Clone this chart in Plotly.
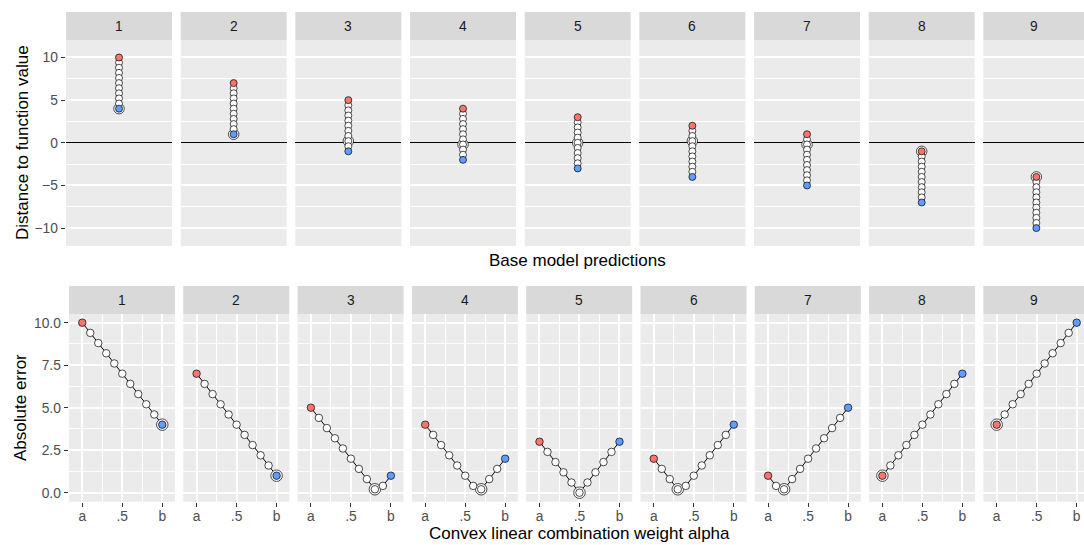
import plotly.graph_objects as go

W, H = 1084, 545

facets = ["1", "2", "3", "4", "5", "6", "7", "8", "9"]
alpha = [0.0, 0.1, 0.2, 0.3, 0.4, 0.5, 0.6, 0.7, 0.8, 0.9, 1.0]

# base model predictions along the convex combination (top row)
pred_1 = [10, 9.4, 8.8, 8.2, 7.6, 7.0, 6.4, 5.8, 5.2, 4.6, 4]
pred_2 = [7, 6.4, 5.8, 5.2, 4.6, 4.0, 3.4, 2.8, 2.2, 1.6, 1]
pred_3 = [5, 4.4, 3.8, 3.2, 2.6, 2.0, 1.4, 0.8, 0.2, -0.4, -1]
pred_4 = [4, 3.4, 2.8, 2.2, 1.6, 1.0, 0.4, -0.2, -0.8, -1.4, -2]
pred_5 = [3, 2.4, 1.8, 1.2, 0.6, 0.0, -0.6, -1.2, -1.8, -2.4, -3]
pred_6 = [2, 1.4, 0.8, 0.2, -0.4, -1.0, -1.6, -2.2, -2.8, -3.4, -4]
pred_7 = [1, 0.4, -0.2, -0.8, -1.4, -2.0, -2.6, -3.2, -3.8, -4.4, -5]
pred_8 = [-1, -1.6, -2.2, -2.8, -3.4, -4.0, -4.6, -5.2, -5.8, -6.4, -7]
pred_9 = [-4, -4.6, -5.2, -5.8, -6.4, -7.0, -7.6, -8.2, -8.8, -9.4, -10]

# absolute errors (bottom row)
err_1 = [10, 9.4, 8.8, 8.2, 7.6, 7.0, 6.4, 5.8, 5.2, 4.6, 4]
err_2 = [7, 6.4, 5.8, 5.2, 4.6, 4.0, 3.4, 2.8, 2.2, 1.6, 1]
err_3 = [5, 4.4, 3.8, 3.2, 2.6, 2.0, 1.4, 0.8, 0.2, 0.4, 1]
err_4 = [4, 3.4, 2.8, 2.2, 1.6, 1.0, 0.4, 0.2, 0.8, 1.4, 2]
err_5 = [3, 2.4, 1.8, 1.2, 0.6, 0.0, 0.6, 1.2, 1.8, 2.4, 3]
err_6 = [2, 1.4, 0.8, 0.2, 0.4, 1.0, 1.6, 2.2, 2.8, 3.4, 4]
err_7 = [1, 0.4, 0.2, 0.8, 1.4, 2.0, 2.6, 3.2, 3.8, 4.4, 5]
err_8 = [1, 1.6, 2.2, 2.8, 3.4, 4.0, 4.6, 5.2, 5.8, 6.4, 7]
err_9 = [4, 4.6, 5.2, 5.8, 6.4, 7.0, 7.6, 8.2, 8.8, 9.4, 10]

top_ticks = [-10, -5, 0, 5, 10]
top_ticktext = ["\u221210", "\u22125", "0", "5", "10"]
bot_yticks = [0, 2.5, 5, 7.5, 10]
bot_yticktext = ["0.0", "2.5", "5.0", "7.5", "10.0"]
bot_xticks = [0, 0.5, 1]
bot_xticktext = ["a", ".5", "b"]

preds = [pred_1, pred_2, pred_3, pred_4, pred_5, pred_6, pred_7, pred_8, pred_9]
errs = [err_1, err_2, err_3, err_4, err_5, err_6, err_7, err_8, err_9]

RED = "#F8766D"
BLUE = "#619CFF"
BG = "#EBEBEB"
STRIP = "#D9D9D9"
FONT = "Liberation Sans, Arial, Helvetica, sans-serif"
TICKFONT = dict(family=FONT, size=13.8, color="#4D4D4D")

def fx(px):
    return px / W

def fy(py):
    return 1 - py / H

fig = go.Figure()
layout = {}
shapes = []
annotations = []

TOP_Y0, TOP_Y1 = 40, 246
BOT_Y0, BOT_Y1 = 314, 501.7
PW = 106


def add_panel(n, xs, ys, mi, size, ring):
    xa, ya = f"x{n}", f"y{n}"
    fig.add_trace(go.Scatter(x=xs, y=ys, mode="lines", line=dict(color="black", width=1),
                             xaxis=xa, yaxis=ya, showlegend=False, hoverinfo="skip"))
    fig.add_trace(go.Scatter(x=[xs[mi]], y=[ys[mi]], mode="markers",
                             marker=dict(size=ring, color="white", line=dict(color="black", width=0.7)),
                             xaxis=xa, yaxis=ya, showlegend=False, hoverinfo="skip"))
    fig.add_trace(go.Scatter(x=xs[1:-1], y=ys[1:-1], mode="markers",
                             marker=dict(size=size, color="white", line=dict(color="black", width=0.7)),
                             xaxis=xa, yaxis=ya, showlegend=False))
    fig.add_trace(go.Scatter(x=[xs[0]], y=[ys[0]], mode="markers",
                             marker=dict(size=size, color=RED, line=dict(color="black", width=0.7)),
                             xaxis=xa, yaxis=ya, showlegend=False))
    fig.add_trace(go.Scatter(x=[xs[-1]], y=[ys[-1]], mode="markers",
                             marker=dict(size=size, color=BLUE, line=dict(color="black", width=0.7)),
                             xaxis=xa, yaxis=ya, showlegend=False))


def strip(x0, x1, y0, y1, label):
    shapes.append(dict(type="rect", xref="paper", yref="paper", x0=fx(x0), x1=fx(x1),
                       y0=fy(y1), y1=fy(y0), fillcolor=STRIP, line=dict(width=0), layer="below"))
    annotations.append(dict(xref="paper", yref="paper", x=fx((x0 + x1) / 2), y=fy((y0 + y1) / 2),
                            text=label, showarrow=False, xanchor="center", yanchor="middle",
                            font=dict(family=FONT, size=13.8, color="#1A1A1A")))


for i, lab in enumerate(facets):
    e = errs[i]
    mi = e.index(min(e))

    # ---- top row ----
    n = i + 1
    x0 = 66 + i * 114.67
    x1 = min(x0 + PW, W)
    xr = [-0.5, -0.5 + (x1 - x0) / PW]
    layout[f"xaxis{n}"] = dict(domain=[fx(x0), fx(x1)], range=xr, showgrid=False,
                               showticklabels=False, ticks="", zeroline=False,
                               anchor=f"y{n}", showline=False)
    layout[f"yaxis{n}"] = dict(domain=[fy(TOP_Y1), fy(TOP_Y0)], range=[-12.1, 12.05],
                               anchor=f"x{n}", tickmode="array", tickvals=top_ticks,
                               ticktext=top_ticktext, showticklabels=(i == 0),
                               ticks="outside" if i == 0 else "", ticklen=4.4, tickwidth=1,
                               tickcolor="#333333", tickfont=TICKFONT,
                               showgrid=True, gridcolor="white", gridwidth=1.5,
                               minor=dict(tickvals=[-7.5, -2.5, 2.5, 7.5], showgrid=True,
                                          gridcolor="white", gridwidth=0.8, ticks=""),
                               zeroline=True, zerolinecolor="black", zerolinewidth=1.3,
                               showline=False)
    add_panel(n, [0] * len(alpha), preds[i], mi, 7, 10.5)
    strip(x0, x1, 12, TOP_Y0, lab)

    # ---- bottom row ----
    n = i + 10
    x0 = 69 + i * 114.3
    x1 = min(x0 + PW, W)
    xr = [-0.166, -0.166 + (x1 - x0) / 80.0]
    layout[f"xaxis{n}"] = dict(domain=[fx(x0), fx(x1)], range=xr, anchor=f"y{n}",
                               tickmode="array", tickvals=bot_xticks, ticktext=bot_xticktext,
                               ticks="outside", ticklen=4.4, tickwidth=1, tickcolor="#333333",
                               tickfont=TICKFONT, ticklabelstandoff=-3,
                               showgrid=True, gridcolor="white", gridwidth=1.5,
                               minor=dict(tickvals=[0.25, 0.75], showgrid=True,
                                          gridcolor="white", gridwidth=0.8, ticks=""),
                               zeroline=False, showline=False)
    layout[f"yaxis{n}"] = dict(domain=[fy(BOT_Y1), fy(BOT_Y0)], range=[-0.53, 10.51],
                               anchor=f"x{n}", tickmode="array", tickvals=bot_yticks,
                               ticktext=bot_yticktext, showticklabels=(i == 0),
                               ticks="outside" if i == 0 else "", ticklen=4.4, tickwidth=1,
                               tickcolor="#333333", tickfont=TICKFONT,
                               showgrid=True, gridcolor="white", gridwidth=1.5,
                               minor=dict(tickvals=[1.25, 3.75, 6.25, 8.75], showgrid=True,
                                          gridcolor="white", gridwidth=0.8, ticks=""),
                               zeroline=False, showline=False)
    add_panel(n, alpha, e, mi, 7.5, 11.5)
    strip(x0, x1, 286, BOT_Y0, lab)

TITLEFONT = dict(family=FONT, size=17, color="black")
annotations.append(dict(xref="paper", yref="paper", x=fx(577.5), y=fy(260.5),
                        text="Base model predictions", showarrow=False,
                        xanchor="center", yanchor="middle", font=TITLEFONT))
annotations.append(dict(xref="paper", yref="paper", x=fx(579.5), y=fy(533.5),
                        text="Convex linear combination weight alpha", showarrow=False,
                        xanchor="center", yanchor="middle", font=TITLEFONT))
annotations.append(dict(xref="paper", yref="paper", x=fx(22), y=fy(143),
                        text="Distance to function value", showarrow=False, textangle=-90,
                        xanchor="center", yanchor="middle", font=TITLEFONT))
annotations.append(dict(xref="paper", yref="paper", x=fx(20), y=fy(408),
                        text="Absolute error", showarrow=False, textangle=-90,
                        xanchor="center", yanchor="middle", font=TITLEFONT))

fig.update_layout(**layout)
fig.update_layout(width=W, height=H, autosize=False,
                  margin=dict(l=0, r=0, t=0, b=0),
                  paper_bgcolor="white", plot_bgcolor=BG,
                  shapes=shapes, annotations=annotations, showlegend=False,
                  font=dict(family=FONT))

fig.write_html("out.html", config={"displayModeBar": False},
               post_script="document.body.style.margin='0px';document.body.style.overflow='hidden';")
